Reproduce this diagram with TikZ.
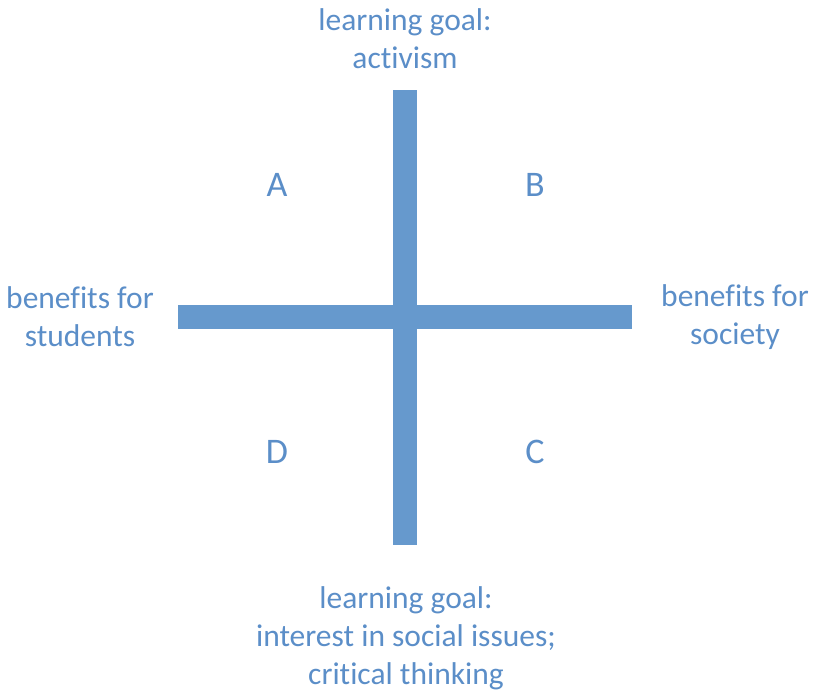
\documentclass[tikz,border=0pt]{standalone}
\usepackage{fontspec}
\setmainfont{Carlito}[Ligatures=NoCommon]
\usepackage{xcolor}
\usetikzlibrary{positioning}
\definecolor{barblue}{RGB}{102,153,205}
\definecolor{textblue}{RGB}{91,142,200}
\tikzstyle{bar} = [line width=24pt, line cap=butt, draw=barblue]
\tikzstyle{axisText} = [
        text=textblue,
        align=center,
        inner sep=0pt,
        font=\fontsize{31.5}{38}\selectfont
    ]
\tikzstyle{quadrant} = [
        text=textblue,
        inner sep=0pt,
        font=\fontsize{36}{40}\selectfont
    ]

\begin{document}
\begin{tikzpicture}[x=1pt, y=-1pt]
    \useasboundingbox (0,0) rectangle (815,694);
    % end points of the two bars
    \coordinate (top) at (405,90);
    \coordinate (bottom) at (405,545);
    \coordinate (left) at (178,317);
    \coordinate (right) at (632,317);
    \draw [bar] (top) -- (bottom);
    \draw [bar] (left) -- (right);
    % axis labels
    \node (goalTop) [axisText] at (405,39) {learning goal:\\activism};
    \node (goalBottom) [axisText] at (406,638) {learning goal:\\interest in social issues;\\critical thinking};
    \node (students) [axisText] at (80,317) {benefits for\\students};
    \node (society) [axisText] at (735,317) {benefits for\\society};
    % quadrants
    \node (A) [quadrant] at (277,185) {A};
    \node (B) [quadrant] at (535,185) {B};
    \node (C) [quadrant] at (535,452) {C};
    \node (D) [quadrant] at (277,452) {D};
\end{tikzpicture}
\end{document}
